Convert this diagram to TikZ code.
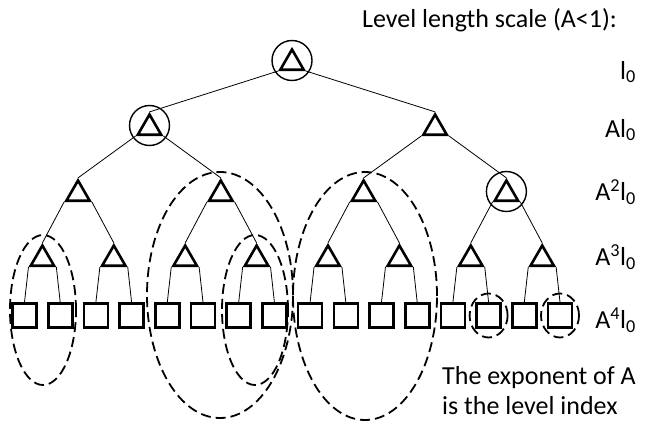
\documentclass[tikz,border=0pt]{standalone}
\usepackage{fontspec}
\setmainfont{Carlito}
\usetikzlibrary{shapes.geometric}

\begin{document}
\begin{tikzpicture}[x=1pt,y=-1pt]
	\tikzset{tri/.style={draw,regular polygon,regular polygon sides=3,minimum size=27pt,inner sep=0pt,line width=2.6pt}}
	\tikzset{leaf/.style={draw,minimum size=24pt,inner sep=0pt,line width=2.6pt}}
	\tikzset{ring/.style={draw,circle,minimum size=40pt,inner sep=0pt,line width=1.4pt,yshift=2.5pt}}
	\tikzset{edge/.style={line width=0.8pt}}
	\tikzset{group/.style={dash pattern=on 10pt off 5pt,line width=1.8pt}}
	\tikzset{lbl/.style={font=\fontsize{26}{30}\selectfont,inner sep=0pt}}
	\useasboundingbox (0,0) rectangle (650,428);
	% tree
	\node[tri] (t0) at (292,63) {};
	\foreach \i in {0,1} \node[tri] (t1-\i) at (149.5+285.6*\i,128) {};
	\foreach \i in {0,...,3} \node[tri] (t2-\i) at (78+142.8*\i,194) {};
	\foreach \i in {0,...,7} \node[tri] (t3-\i) at (42.4+71.4*\i,259) {};
	\foreach \i in {0,...,15} \node[leaf] (s-\i) at (24.5+35.7*\i,315.5) {};
	\foreach \i in {0,1}{\pgfmathtruncatemacro\c{2+mod(\i,2)}
		\draw[edge] (t0.corner \c) -- (t1-\i.corner 1);}
	\foreach \i in {0,...,3}{\pgfmathtruncatemacro\p{div(\i,2)}\pgfmathtruncatemacro\c{2+mod(\i,2)}
		\draw[edge] (t1-\p.corner \c) -- (t2-\i.corner 1);}
	\foreach \i in {0,...,7}{\pgfmathtruncatemacro\p{div(\i,2)}\pgfmathtruncatemacro\c{2+mod(\i,2)}
		\draw[edge] (t2-\p.corner \c) -- (t3-\i.corner 1);}
	\foreach \i in {0,...,15}{\pgfmathtruncatemacro\p{div(\i,2)}\pgfmathtruncatemacro\c{2+mod(\i,2)}
		\draw[edge] (t3-\p.corner \c) -- (s-\i.north);}
	\node[ring] (c0) at (t0) {};
	\node[ring] (c1) at (t1-0) {};
	\node[ring] (c2) at (t2-3) {};
	% dashed groups
	\draw[group] (43,310) ellipse [x radius=33pt,y radius=75pt];
	\draw[group] (220,295) ellipse [x radius=73pt,y radius=123pt];
	\draw[group] (255,310) ellipse [x radius=33pt,y radius=75pt];
	\draw[group] (365,296) ellipse [x radius=72pt,y radius=124pt];
	\draw[group] (s-13) ellipse [x radius=19pt,y radius=22pt];
	\draw[group] (s-15) ellipse [x radius=19pt,y radius=22pt];
	% scale labels
	\node[lbl,anchor=west] (title) at (362,20) {Level length scale (A<1):};
	\node[lbl,anchor=east] (l0) at (636,72) {l\textsubscript{0}};
	\node[lbl,anchor=east] (l1) at (636,130) {Al\textsubscript{0}};
	\node[lbl,anchor=east] (l2) at (636,192) {A\textsuperscript{2}l\textsubscript{0}};
	\node[lbl,anchor=east] (l3) at (636,257) {A\textsuperscript{3}l\textsubscript{0}};
	\node[lbl,anchor=east] (l4) at (636,320) {A\textsuperscript{4}l\textsubscript{0}};
	\node[lbl,anchor=north west,align=left] (note) at (442,366) {The exponent of A\\is the level index};
\end{tikzpicture}
\end{document}
